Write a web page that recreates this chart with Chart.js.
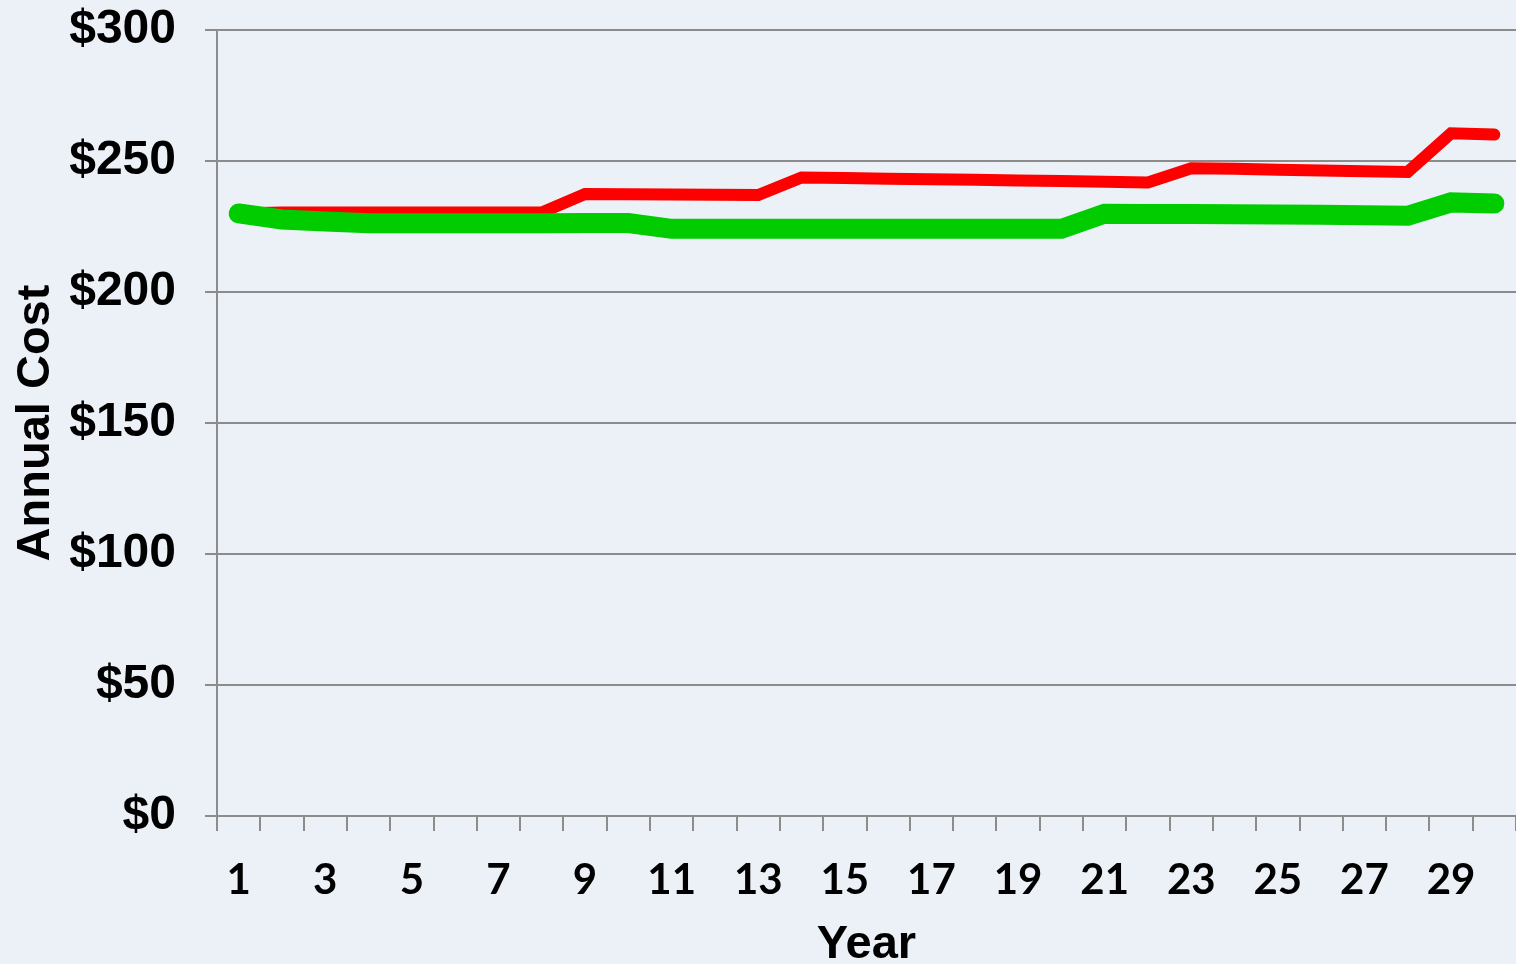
<!DOCTYPE html>
<html>
<head>
<meta charset="utf-8">
<script src="https://cdn.jsdelivr.net/npm/chart.js@4/dist/chart.umd.min.js"></script>
<style>
  html, body { margin: 0; padding: 0; background: #ECF1F8; }
  #wrap { width: 1516px; height: 964px; }
</style>
</head>
<body>
<div id="wrap"><canvas id="c" width="1516" height="964"></canvas></div>
<script>
const years = Array.from({length: 30}, (_, i) => String(i + 1));
const redCost = [230.0, 230.3, 230.3, 230.3, 230.3, 230.3, 230.3, 230.3, 237.4, 237.3,
                 237.2, 237.1, 237.0, 243.7, 243.5, 243.2, 243.0, 242.8, 242.6, 242.4,
                 242.1, 241.8, 247.2, 247.0, 246.7, 246.4, 246.1, 245.8, 260.6, 260.1];
const greenCost = [230.0, 227.7, 226.9, 226.2, 226.2, 226.2, 226.2, 226.2, 226.3, 226.3,
                   224.1, 224.1, 224.1, 224.1, 224.1, 224.1, 224.1, 224.1, 224.1, 224.1,
                   229.9, 229.8, 229.8, 229.7, 229.6, 229.5, 229.3, 229.1, 234.2, 233.8];
const yTicks = [0, 50, 100, 150, 200, 250, 300];

const GRID = '#8C8C8C';

const bgPlugin = {
  id: 'bg',
  beforeDraw(chart) {
    const ctx = chart.ctx;
    ctx.save();
    ctx.fillStyle = '#ECF1F8';
    ctx.fillRect(0, 0, chart.width, chart.height);
    ctx.restore();
  }
};

new Chart(document.getElementById('c'), {
  type: 'line',
  data: {
    labels: years,
    datasets: [
      {
        label: 'Green',
        data: greenCost,
        borderColor: '#00CC00',
        backgroundColor: '#00CC00',
        borderWidth: 20,
        borderCapStyle: 'round',
        borderJoinStyle: 'miter',
        pointRadius: 0,
        tension: 0,
        fill: false
      },
      {
        label: 'Red',
        data: redCost,
        borderColor: '#FF0000',
        backgroundColor: '#FF0000',
        borderWidth: 12,
        borderCapStyle: 'round',
        borderJoinStyle: 'miter',
        pointRadius: 0,
        tension: 0,
        fill: false
      }
    ]
  },
  options: {
    responsive: false,
    animation: false,
    events: [],
    layout: { padding: { top: 30, right: 0, left: 0, bottom: 0 } },
    plugins: { legend: { display: false }, tooltip: { enabled: false } },
    scales: {
      x: {
        offset: true,
        afterFit: s => { s.height = 148; s.paddingLeft = 0; s.paddingRight = 0; },
        grid: { offset: true, drawOnChartArea: false, drawTicks: true, tickLength: 15, color: GRID, lineWidth: 2 },
        border: { display: true, color: GRID, width: 2 },
        ticks: {
          autoSkip: false,
          maxRotation: 0,
          padding: 24,
          color: '#000',
          font: { family: 'Lato', weight: 'bold', size: 42, lineHeight: 1.2 },
          callback: function(v, i) { return i % 2 === 0 ? years[i] : ''; }
        },
        title: {
          display: true,
          text: 'Year',
          color: '#000',
          font: { family: 'Liberation Sans', weight: 'bold', size: 47, lineHeight: 0.8 },
          padding: { top: 0, bottom: 0 }
        }
      },
      y: {
        min: 0,
        max: 300,
        afterFit: s => { s.width = 217; s.paddingTop = 0; s.paddingBottom = 0; },
        afterBuildTicks: s => { s.ticks = yTicks.map(v => ({ value: v })); },
        grid: { drawOnChartArea: true, drawTicks: true, tickLength: 12, color: GRID, lineWidth: 2 },
        border: { display: true, color: GRID, width: 2 },
        ticks: {
          padding: 29,
          color: '#000',
          font: { family: 'Liberation Sans', weight: 'bold', size: 48, lineHeight: 1.2 },
          callback: v => '$' + v
        },
        title: {
          display: true,
          text: 'Annual Cost',
          color: '#000',
          font: { family: 'Liberation Sans', weight: 'bold', size: 47, lineHeight: 1.2 },
          padding: { top: 8, bottom: 0 }
        }
      }
    }
  },
  plugins: [bgPlugin]
});
</script>
</body>
</html>
